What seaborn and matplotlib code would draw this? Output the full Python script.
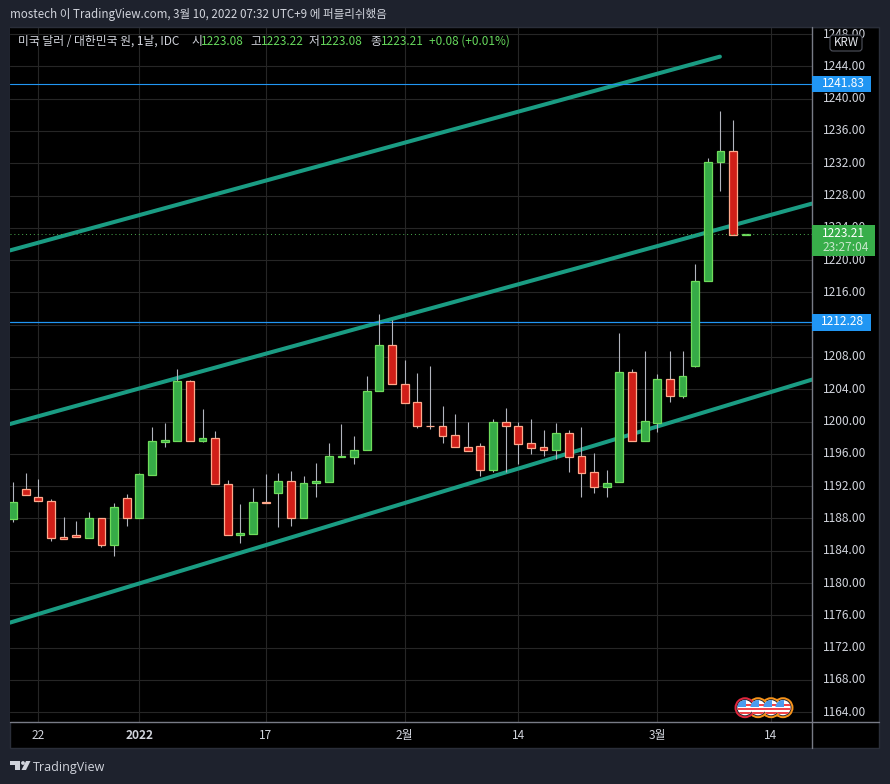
import matplotlib
matplotlib.use('Agg')
import matplotlib.pyplot as plt
from matplotlib.patches import Circle, FancyBboxPatch, Polygon, Rectangle
from matplotlib.transforms import ScaledTranslation
import numpy as np
import pandas as pd
import seaborn as sns

# candle values, one per trading day
opens = [1187.9, 1191.7, 1190.7, 1190.2, 1185.65, 1186.0, 1185.6, 1188.0, 1184.7, 1190.5,
         1188.0, 1193.4, 1197.5, 1197.6, 1205.0, 1197.6, 1198.0, 1192.3, 1185.9, 1186.1,
         1190.1, 1191.1, 1192.7, 1188.0, 1192.4, 1192.5, 1195.6, 1195.6, 1196.5, 1203.8,
         1209.5, 1204.7, 1202.4, 1199.5, 1199.5, 1198.3, 1196.9, 1197.0, 1194.0, 1199.9,
         1199.5, 1197.4, 1196.8, 1196.5, 1198.6, 1195.7, 1193.7, 1191.9, 1192.5, 1206.1,
         1197.6, 1199.8, 1205.3, 1203.2, 1206.9, 1217.4, 1232.1, 1233.5, 1223.08]
closes = [1190.1, 1190.9, 1190.2, 1185.6, 1185.4, 1185.7, 1188.1, 1184.7, 1189.4, 1188.0,
          1193.5, 1197.6, 1197.7, 1205.0, 1197.6, 1198.0, 1192.3, 1185.9, 1186.2, 1190.1,
          1189.95, 1192.6, 1188.1, 1192.4, 1192.6, 1195.7, 1195.7, 1196.5, 1203.8, 1209.5,
          1204.7, 1202.3, 1199.5, 1199.45, 1198.2, 1196.9, 1196.4, 1194.0, 1199.9, 1199.5,
          1197.2, 1196.7, 1196.5, 1198.6, 1195.6, 1193.6, 1191.9, 1192.4, 1206.1, 1197.6,
          1200.1, 1205.3, 1203.2, 1205.6, 1217.4, 1232.15, 1233.5, 1223.1, 1223.21]
highs = [1192.5, 1193.6, 1192.9, 1190.4, 1188.2, 1187.7, 1188.8, 1188.0, 1189.9, 1191.0,
         1193.6, 1199.3, 1199.8, 1206.5, 1205.2, 1201.6, 1198.8, 1192.8, 1189.8, 1191.8,
         1193.5, 1193.6, 1193.9, 1193.3, 1194.9, 1197.3, 1199.7, 1198.2, 1205.7, 1213.3,
         1212.6, 1207.6, 1206.0, 1206.9, 1201.9, 1201.0, 1200.0, 1197.4, 1200.3, 1201.65,
         1200.0, 1200.3, 1198.9, 1199.8, 1198.9, 1199.3, 1196.1, 1194.0, 1210.95, 1206.5,
         1208.8, 1205.9, 1208.7, 1208.8, 1219.55, 1232.7, 1238.5, 1237.4, 1223.22]
lows = [1187.6, 1190.9, 1190.2, 1185.2, 1185.4, 1185.7, 1185.6, 1184.5, 1183.3, 1187.1,
        1188.0, 1193.4, 1196.9, 1197.6, 1197.6, 1197.5, 1192.3, 1185.9, 1185.0, 1186.1,
        1189.95, 1186.9, 1187.1, 1188.0, 1190.7, 1192.5, 1195.6, 1194.75, 1196.5, 1203.8,
        1204.7, 1202.3, 1199.2, 1199.05, 1197.4, 1196.9, 1196.4, 1193.3, 1193.8, 1193.8,
        1194.8, 1196.0, 1195.7, 1195.4, 1193.8, 1190.7, 1191.1, 1190.7, 1192.5, 1197.6,
        1197.6, 1198.7, 1202.4, 1202.9, 1206.8, 1217.4, 1228.6, 1223.1, 1223.08]

# trend channel end points (bar number, price)
upper_x = [-0.24, 55.96]
upper_y = [1221.2, 1245.2]
middle_x = [-0.24, 63.25]
middle_y = [1199.7, 1227.0]
lower_x = [-0.24, 63.25]
lower_y = [1175.1, 1205.2]

x_ticks = [2, 10, 20, 31, 40, 51, 60]
x_labels = ['22', '2022', '17', '2월', '14', '3월', '14']
y_ticks = list(range(1164, 1252, 4))
level_top = 1241.83
level_low = 1212.28
last_price = 1223.21

BG = '#1e222d'
GREEN = '#36ab47'
GREEN_EDGE = '#6fdc5c'
RED = '#d01f18'
RED_EDGE = '#ffa98c'
TEAL = '#1a9c83'
BLUE = '#2196f3'
GRID = '#262626'
AXIS = '#787b86'
TXT = '#d1d4dc'
VAL = '#66d75c'
FONT = ['Noto Sans CJK KR', 'DejaVu Sans']
W, H = 890, 784

sns.set_theme(style='dark')
plt.rcParams['font.family'] = FONT

df = pd.DataFrame({'bar': range(len(opens)), 'open': opens, 'close': closes,
                   'high': highs, 'low': lows})
df['up'] = df['close'] >= df['open']

fig = plt.figure(figsize=(W / 100, H / 100), dpi=100, facecolor=BG)


def box(x0, y0, x1, y1):
    return [x0 / W, 1 - y1 / H, (x1 - x0) / W, (y1 - y0) / H]


ax = fig.add_axes(box(10, 27, 812, 721.7), facecolor='black')
ov = fig.add_axes([0, 0, 1, 1], facecolor='none', zorder=5)
ov.set_xlim(0, W)
ov.set_ylim(H, 0)
ov.axis('off')

# black panel behind the price scale and the time scale
fig.patches.append(Rectangle((10 / W, 1 - 748 / H), 869 / W, 721 / H, transform=fig.transFigure,
                             facecolor='black', edgecolor='#2a2e39', lw=1, zorder=-1))

ax.set_xlim(-0.24, 63.25)
ax.set_ylim(1162.83, 1248.87)
ax.set_axisbelow(True)
ax.grid(True, color=GRID, lw=0.8)
ax.set_xticks(x_ticks)
ax.set_xticklabels(x_labels, color=TXT, fontsize=8.6)
ax.set_yticks(y_ticks)
ax.set_yticklabels([f'{v:.2f}' for v in y_ticks], color=TXT, fontsize=8.6)
ax.yaxis.tick_right()
ax.tick_params(axis='both', length=0)
ax.tick_params(axis='x', pad=5.5)
ax.tick_params(axis='y', pad=8)
ax.get_xticklabels()[1].set_fontweight('bold')
nudge = ScaledTranslation(0, 1.5 / 100, fig.dpi_scale_trans)
for lab in ax.get_yticklabels():
    lab.set_transform(lab.get_transform() + nudge)
for s in ax.spines.values():
    s.set_visible(False)

for px, py in [(upper_x, upper_y), (middle_x, middle_y), (lower_x, lower_y)]:
    sns.lineplot(x=px, y=py, color=TEAL, lw=2.9, ax=ax, zorder=2, estimator=None, sort=False)

ax.axhline(level_top, color=BLUE, lw=0.8, zorder=2.1)
ax.axhline(level_low, color=BLUE, lw=0.9, zorder=2.1)

ax.vlines(df['bar'], df['low'], df['high'], color='#b2b5be', lw=0.8, zorder=3)

# candle bodies
for up, face, edge in [(True, GREEN, GREEN_EDGE), (False, RED, RED_EDGE)]:
    sub = df[df['up'] == up]
    ax.bar(sub['bar'], (sub['close'] - sub['open']).abs(), bottom=sub[['open', 'close']].min(axis=1),
           width=0.62, color=face, edgecolor=edge, lw=0.9, zorder=4)

ax.axhline(last_price, color='#4caf50', lw=0.7, ls=(0, (1, 3)), zorder=4.5)

# --- page furniture, in pixels ---
ov.add_patch(Rectangle((0, 0), W, 27, facecolor=BG, edgecolor='none', zorder=1))
ov.plot([10, 879], [26.5, 26.5], color='#2a2e39', lw=1, zorder=2)
ov.plot([10, 879], [721.7, 721.7], color=AXIS, lw=1, zorder=2)
ov.plot([812, 812], [27, 748], color=AXIS, lw=1, zorder=2)

ov.text(10, 14, 'mostech 이 TradingView.com, 3월 10, 2022 07:32 UTC+9 에 퍼블리쉬했음',
        color=TXT, fontsize=8.35, va='center', zorder=3)

for x, s, c in [(18.5, '미국 달러 / 대한민국 원, 1날, IDC', TXT), (191, '시', TXT), (201, '1223.08', VAL),
                (250, '고', TXT), (261, '1223.22', VAL), (309, '저', TXT), (320, '1223.08', VAL),
                (370, '종', TXT), (381, '1223.21', VAL), (429, '+0.08 (+0.01%)', VAL)]:
    ov.text(x, 41.5, s, color=c, fontsize=8.5, va='center', zorder=3)

ov.add_patch(FancyBboxPatch((831, 36), 30, 14, boxstyle='round,pad=1,rounding_size=3',
                            facecolor='black', edgecolor='#50535e', lw=0.8, zorder=3))
ov.text(846.5, 42.5, 'KRW', color='#e6e8ee', fontsize=8.4, ha='center', va='center', zorder=4)

for y, s in [(84, f'{level_top:.2f}'), (322.4, f'{level_low:.2f}')]:
    ov.add_patch(Rectangle((812, y - 8.2), 59, 16.4, facecolor=BLUE, edgecolor='none', zorder=3))
    ov.text(843, y - 0.5, s, color='white', fontsize=8.6, ha='center', va='center', zorder=4)

ov.add_patch(Rectangle((812, 225), 63, 30.5, facecolor='#38ae4a', edgecolor='none', zorder=3))
ov.text(843, 233, f'{last_price:.2f}', color='white', fontsize=8.6, ha='center', va='center', zorder=4)
ov.text(846, 247, '23:27:04', color='#c8e8cc', fontsize=8.6, ha='center', va='center', zorder=4)

# event flags
for cx, ring in [(783, '#f7931a'), (771, '#f7931a'), (758, '#f7931a'), (745, '#e0263c')]:
    ov.add_patch(Circle((cx, 707.7), 9.5, facecolor='#20242e', edgecolor=ring, lw=1.4, zorder=3))
    disc = Circle((cx, 707.7), 7.6, transform=ov.transData)
    ov.add_patch(Rectangle((cx - 8, 699.7), 16, 16, facecolor='white', edgecolor='none', zorder=3.1, clip_path=disc))
    for k in range(3):
        ov.add_patch(Rectangle((cx - 8, 703.5 + k * 4.2), 16, 2.4, facecolor='#f0454a', edgecolor='none',
                               zorder=3.2, clip_path=disc))
    ov.add_patch(Rectangle((cx - 8, 699.7), 9, 7.5, facecolor='#4a9bee', edgecolor='none', zorder=3.3, clip_path=disc))

# logo
ov.add_patch(Polygon([(10, 761), (20, 761), (20, 770), (15, 770), (15, 765), (10, 765)],
                     facecolor=TXT, edgecolor='none', zorder=3))
ov.add_patch(Circle((23, 763), 1.9, facecolor=TXT, edgecolor='none', zorder=3))
ov.add_patch(Polygon([(26, 761), (30.5, 761), (26, 770), (21.5, 770)], facecolor=TXT, edgecolor='none', zorder=3))
ov.text(33, 767, 'TradingView', color=TXT, fontsize=9.0, va='center', zorder=3, family=['Open Sans', 'DejaVu Sans'])

fig.savefig('out.png', dpi=100, facecolor=BG)
